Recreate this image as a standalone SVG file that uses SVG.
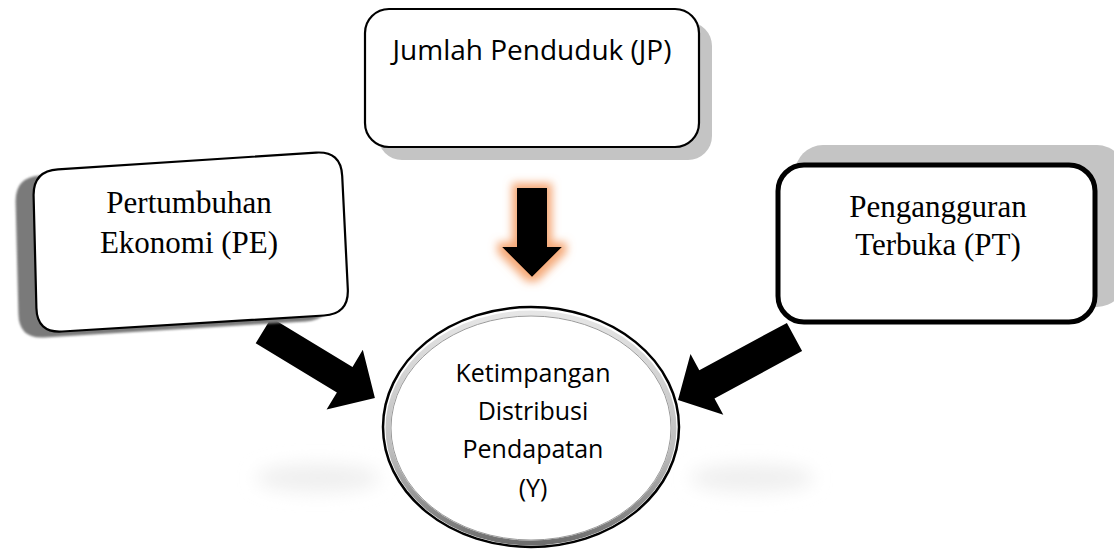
<svg xmlns="http://www.w3.org/2000/svg" width="1114" height="549" viewBox="0 0 1114 549">
<defs>
<style>
.serif{font-family:"Liberation Serif","Times New Roman",serif;font-size:31px;fill:#000;text-anchor:middle}
.sans{font-family:"Open Sans","Noto Sans",sans-serif;fill:#000;text-anchor:middle}
.box{fill:#fff;stroke:#000}
.arrow{fill:#000}
</style>
<filter id="glow" x="-50%" y="-50%" width="200%" height="200%">
<feMorphology in="SourceAlpha" operator="dilate" radius="5" result="d"/>
<feGaussianBlur in="d" stdDeviation="4" result="b"/>
<feFlood flood-color="#F4A06A" flood-opacity="0.9"/>
<feComposite in2="b" operator="in" result="g"/>
<feMerge><feMergeNode in="g"/><feMergeNode in="SourceGraphic"/></feMerge>
</filter>
<filter id="blur" x="-50%" y="-100%" width="200%" height="300%">
<feGaussianBlur stdDeviation="9"/>
</filter>
<filter id="soft" x="-10%" y="-10%" width="120%" height="120%">
<feGaussianBlur stdDeviation="1"/>
</filter>
<linearGradient id="ring" x1="0" y1="0" x2="0" y2="1">
<stop offset="0" stop-color="#e6e6e6"/>
<stop offset="0.6" stop-color="#bdbdbd"/>
<stop offset="1" stop-color="#6e6e6e"/>
</linearGradient>
</defs>
<rect width="1114" height="549" fill="#fff"/>

<g id="reflections">
<ellipse cx="318" cy="478" rx="62" ry="14" fill="#efefef" filter="url(#blur)"/>
<ellipse cx="752" cy="478" rx="62" ry="14" fill="#efefef" filter="url(#blur)"/>
</g>

<g id="connectors">
<polygon class="arrow" filter="url(#glow)" points="517,188 547,188 547,247 562,247 532,277 502,247 517,247"/>
<polygon class="arrow" points="271.3,317.7 352.5,366.9 362.8,349.8 374.9,398 326.6,409.6 336.9,392.5 255.7,343.3"/>
<polygon class="arrow" points="786.9,322.9 699.3,370.3 690.5,354 678,400 723.3,414.8 714.5,398.5 802.1,351.1"/>
</g>

<g id="node-jp">
<rect x="378" y="22" width="334" height="138" rx="24" fill="#c4c4c4"/>
<rect class="box" x="365" y="9" width="334" height="138" rx="24" stroke-width="2.2"/>
<text class="sans" x="532" y="60" font-size="28">Jumlah Penduduk (JP)</text>
</g>

<g id="node-pe">
<path transform="translate(-18,6)" fill="#7a7a7a" filter="url(#soft)" d="M58,169.4 L316,152.6 Q341,151 342.2,176 L347.8,289 Q349,314 324,315.5 L62,331.5 Q37,333 36.4,308 L33.6,196 Q33,171 58,169.4 Z"/>
<path class="box" stroke-width="2.2" d="M58,169.4 L316,152.6 Q341,151 342.2,176 L347.8,289 Q349,314 324,315.5 L62,331.5 Q37,333 36.4,308 L33.6,196 Q33,171 58,169.4 Z"/>
<text class="serif" x="189" y="213">Pertumbuhan</text>
<text class="serif" x="189" y="253">Ekonomi (PE)</text>
</g>

<g id="node-pt">
<rect x="795" y="145" width="330" height="162" rx="28" fill="#c4c4c4"/>
<rect class="box" x="778" y="165" width="317" height="157" rx="26" stroke-width="5"/>
<text class="serif" x="938" y="217">Pengangguran</text>
<text class="serif" x="938" y="255">Terbuka (PT)</text>
</g>

<g id="node-y">
<ellipse cx="531" cy="427" rx="148" ry="120" fill="#fff" stroke="#000" stroke-width="2.5"/>
<ellipse cx="531" cy="428" rx="143" ry="115" fill="none" stroke="url(#ring)" stroke-width="5"/>
<ellipse cx="531" cy="428" rx="140" ry="112" fill="none" stroke="#9a9a9a" stroke-width="1"/>
<text class="sans" x="533" y="382" font-size="25">Ketimpangan</text>
<text class="sans" x="533" y="420" font-size="25">Distribusi</text>
<text class="sans" x="533" y="458" font-size="25">Pendapatan</text>
<text class="sans" x="533" y="497" font-size="25">(Y)</text>
</g>
</svg>
